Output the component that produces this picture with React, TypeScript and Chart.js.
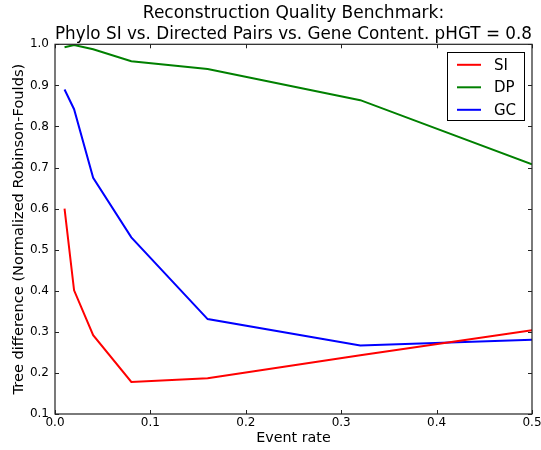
import React, { useEffect, useRef } from 'react';
import { Chart, registerables } from 'chart.js';

Chart.register(...registerables);

const eventRates = [0.01, 0.02, 0.04, 0.08, 0.16, 0.32, 0.5];
const siValues = [0.6, 0.401, 0.292, 0.178, 0.187, 0.243, 0.304];
const dpValues = [0.993, 0.998, 0.988, 0.959, 0.94, 0.864, 0.708];
const gcValues = [0.89, 0.842, 0.675, 0.53, 0.331, 0.267, 0.281];
const seriesNames = ['SI', 'DP', 'GC'];
const seriesColors = ['#ff0000', '#008000', '#0000ff'];
const titleLines = [
  'Reconstruction Quality Benchmark:',
  'Phylo SI vs. Directed Pairs vs. Gene Content. pHGT = 0.8',
];
const xLabel = 'Event rate';
const yLabel = 'Tree difference (Normalized Robinson-Foulds)';
const FONT = '"DejaVu Sans", sans-serif';

const framePlugin = {
  id: 'mplFrame',
  afterDraw(chart: any) {
    const { ctx, chartArea } = chart;
    const { left, right, top, bottom } = chartArea;
    const xs = chart.scales.x;
    const ys = chart.scales.y;
    ctx.save();
    ctx.strokeStyle = '#222';
    ctx.lineWidth = 1.2;
    ctx.strokeRect(left, top, right - left, bottom - top);
    const tl = 4;
    ctx.lineWidth = 1;
    ctx.beginPath();
    xs.ticks.forEach((t: any) => {
      const px = Math.round(xs.getPixelForValue(t.value)) + 0.5;
      ctx.moveTo(px, bottom);
      ctx.lineTo(px, bottom - tl);
      ctx.moveTo(px, top);
      ctx.lineTo(px, top + tl);
    });
    ys.ticks.forEach((t: any) => {
      const py = Math.round(ys.getPixelForValue(t.value)) + 0.5;
      ctx.moveTo(left, py);
      ctx.lineTo(left + tl, py);
      ctx.moveTo(right, py);
      ctx.lineTo(right - tl, py);
    });
    ctx.stroke();

    // legend box inside the plot (upper right)
    const ds = chart.data.datasets;
    const boxW = 77;
    const boxH = 68;
    const bx = right - 8 - boxW;
    const by = top + 8;
    ctx.fillStyle = '#fff';
    ctx.fillRect(bx, by, boxW, boxH);
    ctx.strokeStyle = '#000';
    ctx.lineWidth = 1;
    ctx.strokeRect(Math.round(bx) + 0.5, Math.round(by) + 0.5, boxW, boxH);
    ctx.font = `15px ${FONT}`;
    ctx.textBaseline = 'middle';
    ctx.textAlign = 'left';
    ds.forEach((d: any, i: number) => {
      const cy = by + 12.5 + i * 22.5;
      ctx.strokeStyle = d.borderColor;
      ctx.lineWidth = 2;
      ctx.beginPath();
      ctx.moveTo(bx + 10, cy);
      ctx.lineTo(bx + 34, cy);
      ctx.stroke();
      ctx.fillStyle = '#000';
      ctx.fillText(d.label, bx + 47, cy + 1);
    });
    ctx.restore();
  },
};

export default function App() {
  const ref = useRef<HTMLCanvasElement>(null);
  useEffect(() => {
    document.body.style.margin = '0';
    const canvas = ref.current!;
    const series = [siValues, dpValues, gcValues];
    const chart = new Chart(canvas, {
      type: 'line',
      data: {
        datasets: series.map((vals, i) => ({
          label: seriesNames[i],
          data: eventRates.map((x, j) => ({ x, y: vals[j] })),
          borderColor: seriesColors[i],
          backgroundColor: seriesColors[i],
          borderWidth: 2,
          pointRadius: 0,
          tension: 0,
          fill: false,
        })),
      },
      options: {
        responsive: false,
        animation: false,
        layout: { padding: { left: 0, right: 0, top: 0, bottom: 0 } },
        plugins: {
          legend: { display: false },
          tooltip: { enabled: false },
          title: {
            display: true,
            text: titleLines,
            fullSize: false,
            color: '#000',
            font: { family: FONT, size: 17, weight: 'normal', lineHeight: 1.2 },
            padding: { top: 3.5, bottom: 0 },
          },
        },
        scales: {
          x: {
            type: 'linear',
            min: 0,
            max: 0.5,
            grid: { display: false, drawTicks: false },
            border: { display: false },
            afterFit: (s: any) => {
              s.height = 36;
              s.paddingRight = 9;
              s.paddingLeft = 0;
            },
            ticks: {
              stepSize: 0.1,
              color: '#000',
              padding: 2,
              maxRotation: 0,
              font: { family: FONT, size: 12 },
              callback: (v: any) => Number(v).toFixed(1),
            },
            title: {
              display: true,
              text: xLabel,
              color: '#000',
              font: { family: FONT, size: 14.3 },
              padding: { top: 0, bottom: 3 },
            },
          },
          y: {
            type: 'linear',
            min: 0.1,
            max: 1.0,
            grid: { display: false, drawTicks: false },
            border: { display: false },
            afterFit: (s: any) => { s.width = 55; },
            ticks: {
              stepSize: 0.1,
              color: '#000',
              padding: 6,
              font: { family: FONT, size: 12 },
              callback: (v: any) => Number(v).toFixed(1),
            },
            title: {
              display: true,
              text: yLabel,
              color: '#000',
              font: { family: FONT, size: 14.6 },
              padding: { top: 10.5, bottom: 0 },
            },
          },
        },
      },
      plugins: [framePlugin],
    });
    return () => chart.destroy();
  }, []);
  return (
    <div style={{ position: 'absolute', left: 0, top: 0, width: 541, height: 450 }}>
      <canvas ref={ref} width={541} height={450} />
    </div>
  );
}
